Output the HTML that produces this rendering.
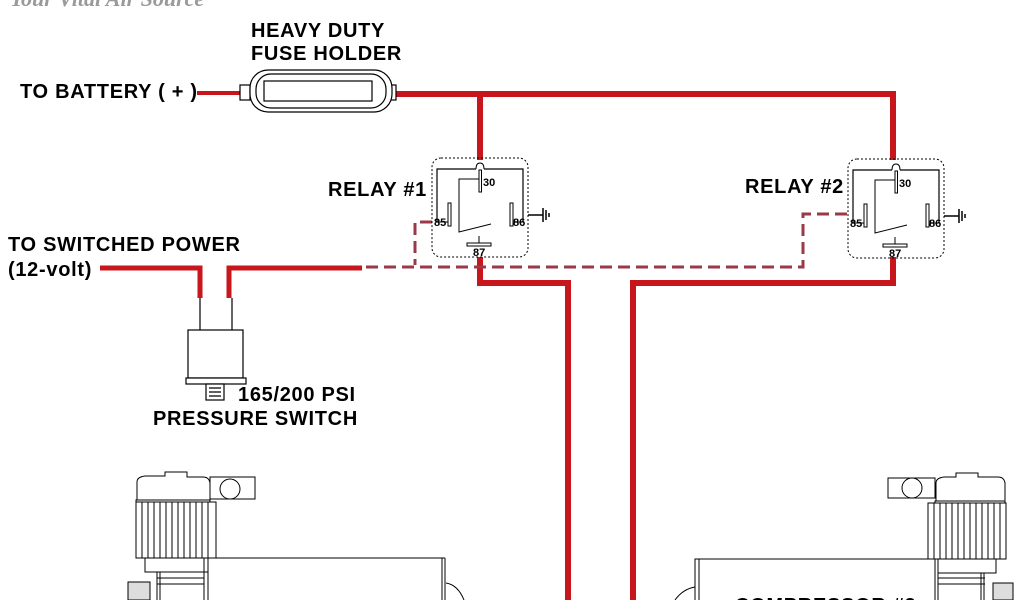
<!DOCTYPE html>
<html><head><meta charset="utf-8"><style>
html,body{margin:0;padding:0;background:#fff;width:1024px;height:600px;overflow:hidden}
svg{display:block}
.t{font-family:"Liberation Sans",sans-serif;font-weight:bold;font-size:20px;letter-spacing:0.7px;fill:#000}
.s{font-family:"Liberation Sans",sans-serif;font-weight:bold;font-size:11px;fill:#000}
</style></head><body>
<svg width="1024" height="600" viewBox="0 0 1024 600" xmlns="http://www.w3.org/2000/svg">
<defs>
<g id="relay" fill="none" stroke="#000">
 <rect x="432" y="158" width="96" height="99" rx="9" stroke-dasharray="2,2" stroke-width="1"/>
 <path d="M437 222 V169 H476 M484 169 H523 V222" stroke-width="1.2"/>
 <path d="M476 169 q0 -6 4 -6 q4 0 4 6" stroke-width="1"/>
 <rect x="479" y="170" width="2.5" height="22" stroke-width="1"/>
 <rect x="448" y="203" width="3" height="23" stroke-width="1"/>
 <rect x="510" y="203" width="3" height="23" stroke-width="1"/>
 <path d="M437 222 H448 M523 222 H513" stroke-width="1"/>
 <path d="M479 179 H459 V232 L491 224" stroke-width="1"/>
 <rect x="467" y="243" width="24" height="3" stroke-width="1"/>
 <path d="M479 243 V236" stroke-width="1"/>
 <path d="M528 215 H543 M543 208 V222 M546 210 V220 M549 213 V217" stroke-width="1.5"/>
 <text x="434" y="226" class="s" stroke="none">85</text>
 <text x="513" y="226" class="s" stroke="none">86</text>
 <text x="483" y="186" class="s" stroke="none">30</text>
 <text x="473" y="256" class="s" stroke="none">87</text>
</g>
</defs>
<text x="10" y="6" font-family="Liberation Serif,serif" font-style="italic" font-weight="bold" font-size="22" fill="#9a9a9a">Your Vital Air Source</text>

<g fill="none" stroke="#c8161d" stroke-linejoin="miter">
 <path d="M197 93 H242" stroke-width="4"/>
 <path d="M393 94 H893 V160" stroke-width="6"/>
 <path d="M480 94 V160" stroke-width="6"/>
 <path d="M480 257 V283 H568 V600" stroke-width="6"/>
 <path d="M893 257 V283 H633 V600" stroke-width="6"/>
 <path d="M100 268 H200 V298" stroke-width="5"/>
 <path d="M229 298 V268 H362" stroke-width="5"/>
</g>
<g fill="none" stroke="#9a3a48" stroke-width="3" stroke-dasharray="12,6">
 <path d="M366 267 H803 V214 H848"/>
 <path d="M432 222 H415 V265"/>
</g>

<g fill="#fff" stroke="#000" stroke-width="1.2">
 <rect x="240" y="85" width="10" height="15"/>
 <rect x="386" y="85" width="10" height="15"/>
 <rect x="250" y="70" width="142" height="42" rx="18"/>
 <rect x="256" y="74" width="130" height="34" rx="15"/>
 <rect x="264" y="81" width="108" height="20"/>
</g>

<use href="#relay"/>
<use href="#relay" transform="translate(416,1)"/>

<g fill="#fff" stroke="#000" stroke-width="1.2">
 <path d="M200 298 V330 M232 298 V330"/>
 <rect x="188" y="330" width="55" height="48"/>
 <rect x="186" y="378" width="60" height="6"/>
 <rect x="206" y="384" width="18" height="16"/>
 <path d="M209 388 H221 M209 392 H221 M209 396 H221"/>
</g>

<g fill="#fff" stroke="#000" stroke-width="1">
 <rect x="210" y="477" width="45" height="22"/>
 <circle cx="230" cy="489" r="10"/>
 <path d="M137 500 V482 q0-5 8-6 H165 V472 H187 V477 H203 q6 0 7 6 V500 Z"/>
 <rect x="136" y="500" width="74" height="8"/>
 <rect x="136" y="502" width="80" height="56"/>
 <path d="M142 502V558 M148 502V558 M154 502V558 M160 502V558 M166 502V558 M172 502V558 M178 502V558 M184 502V558 M190 502V558 M196 502V558 M202 502V558 M208 502V558"/>
 <path d="M136 558 H445"/>
 <rect x="145" y="558" width="63" height="14"/>
 <path d="M204 558 V600 M208 558 V600 M442 558 V600 M445 558 V600"/>
 <path d="M157 578 H204 M157 584 H204 M157 572 V600 M160 572 V600"/>
 <rect x="128" y="582" width="22" height="18" fill="#ddd"/>
 <path d="M446 583 q12 2 18 17"/>
</g>

<g fill="#fff" stroke="#000" stroke-width="1">
 <rect x="888" y="478" width="47" height="20"/>
 <circle cx="912" cy="488" r="10"/>
 <path d="M936 502 V483 q0-5 8-6 H956 V473 H978 V477 H998 q6 0 7 6 V502 Z"/>
 <rect x="935" y="501" width="70" height="8"/>
 <rect x="928" y="503" width="78" height="56"/>
 <path d="M934 503V559 M940 503V559 M946 503V559 M952 503V559 M958 503V559 M964 503V559 M970 503V559 M976 503V559 M982 503V559 M988 503V559 M994 503V559 M1000 503V559"/>
 <rect x="695" y="559" width="240" height="45"/>
 <path d="M699 559 V600 M935 559 V600 M938 559 V600"/>
 <rect x="938" y="559" width="58" height="14"/>
 <path d="M938 578 H985 M938 584 H985 M981 573 V600 M984 573 V600"/>
 <rect x="993" y="583" width="20" height="17" fill="#ddd"/>
 <path d="M695 587 q-12 2 -20 13"/>
</g>
<text x="735" y="612" class="t" font-size="22" letter-spacing="2">COMPRESSOR #2</text>

<text x="251" y="37" class="t">HEAVY DUTY</text>
<text x="251" y="60" class="t">FUSE HOLDER</text>
<text x="20" y="98" class="t">TO BATTERY ( + )</text>
<text x="328" y="196" class="t">RELAY #1</text>
<text x="745" y="193" class="t">RELAY #2</text>
<text x="8" y="251" class="t">TO SWITCHED POWER</text>
<text x="8" y="276" class="t">(12-volt)</text>
<text x="238" y="401" class="t">165/200 PSI</text>
<text x="153" y="425" class="t">PRESSURE SWITCH</text>
</svg>
</body></html>
